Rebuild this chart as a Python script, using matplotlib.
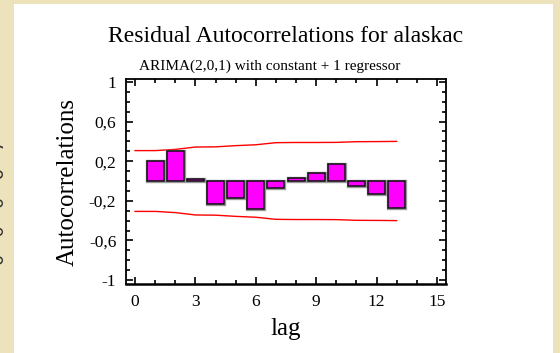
import matplotlib
matplotlib.use('Agg')
import matplotlib.pyplot as plt
import matplotlib.patheffects as pe
from matplotlib.patches import Rectangle
from matplotlib.ticker import MultipleLocator

plt.rcParams['font.family'] = ['Liberation Serif', 'DejaVu Serif']

# residual autocorrelations by lag
lags = [1, 2, 3, 4, 5, 6, 7, 8, 9, 10, 11, 12, 13]
acf = [0.20, 0.30, 0.022, -0.228, -0.168, -0.286, -0.07, 0.033, 0.082, 0.174, -0.05, -0.13, -0.276]

# 95% probability limits
limit_lags = [0, 1, 2, 3, 4, 5, 6, 7, 8, 9, 10, 11, 12, 13]
upper_lim = [0.307, 0.307, 0.319, 0.343, 0.345, 0.357, 0.366, 0.387, 0.389, 0.389, 0.390, 0.397, 0.398, 0.400]
lower_lim = [-v for v in upper_lim]

yticks = [-1, -0.6, -0.2, 0.2, 0.6, 1]
ytick_labels = ['-1', '-0,6', '-0,2', '0,2', '0,6', '1']
xticks = [0, 3, 6, 9, 12, 15]

BG = '#ECE3BD'

fig = plt.figure(figsize=(5.6, 3.53), dpi=100, facecolor=BG)
fig.patches.append(Rectangle((14 / 560, 0), (553 - 14) / 560, (353 - 4) / 353,
                             transform=fig.transFigure, facecolor='white',
                             edgecolor='none', zorder=-10))

# clipped rotated text on the left strip
fig.text(-0.002, 1 - 222 / 353, '-          0   0   0   6   7   -', rotation=90,
         fontsize=13, color='#333333', ha='center', va='center', family='DejaVu Sans')

ax = fig.add_axes([126 / 560, 1 - 284 / 353, (446 - 126) / 560, (284 - 79) / 353])
ax.set_facecolor('white')

ax.bar(lags, acf, width=0.85, color='#FF00FF', edgecolor='#111111', linewidth=1.1,
       path_effects=[pe.Stroke(linewidth=2.4, foreground='#9a9a9a'), pe.Normal()],
       zorder=3)
ax.plot(limit_lags, upper_lim, color='#FF0000', lw=1.0, zorder=2)
ax.plot(limit_lags, lower_lim, color='#FF0000', lw=1.0, zorder=2)

ax.set_xlim(-0.45, 15.45)
ax.set_ylim(-1.04, 1.03)
ax.set_xticks(xticks)
ax.set_xticklabels([str(t) for t in xticks])
ax.set_yticks(yticks)
ax.set_yticklabels(ytick_labels)
ax.xaxis.set_minor_locator(MultipleLocator(1))
ax.yaxis.set_minor_locator(MultipleLocator(0.1))
ax.tick_params(which='both', direction='in', top=True, right=True, labelsize=12.5, width=1.2)
ax.tick_params(which='major', length=5, pad=7)
ax.tick_params(which='minor', length=3)
for s in ax.spines.values():
    s.set_linewidth(1.3)
ax.spines['bottom'].set_linewidth(1.8)

ax.set_xlabel('lag', fontsize=18, labelpad=6)
ax.set_ylabel('Autocorrelations', fontsize=18, labelpad=7)

fig.text(286 / 560, 1 - 37 / 353, 'Residual Autocorrelations for alaskac',
         fontsize=17, ha='center', va='center')
fig.text(270 / 560, 1 - 66 / 353, 'ARIMA(2,0,1) with constant + 1 regressor',
         fontsize=11, ha='center', va='center')

fig.savefig('out.png', dpi=100, facecolor=BG)
